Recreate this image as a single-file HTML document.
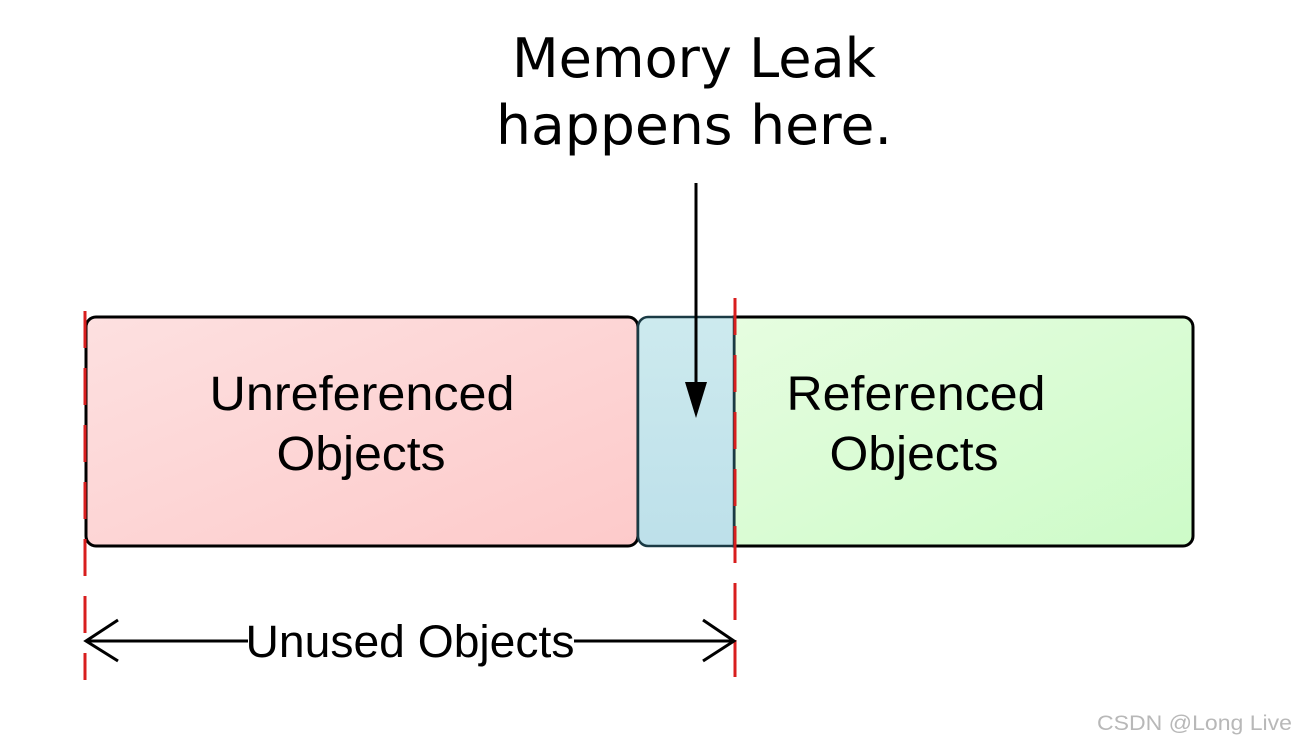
<!DOCTYPE html>
<html><head><style>html,body{margin:0;padding:0;background:#fff;width:1300px;height:745px;overflow:hidden}</style></head>
<body>
<svg width="1300" height="745" viewBox="0 0 1300 745" xmlns="http://www.w3.org/2000/svg">
<defs>
<linearGradient id="r" x1="0" y1="0" x2="1" y2="1"><stop offset="0" stop-color="#fde0e0"/><stop offset="1" stop-color="#fdcaca"/></linearGradient>
<linearGradient id="g" x1="0" y1="0" x2="1" y2="1"><stop offset="0" stop-color="#e6fde0"/><stop offset="1" stop-color="#cdfbc8"/></linearGradient>
<linearGradient id="b" x1="0" y1="0" x2="0" y2="1"><stop offset="0" stop-color="#cdeaee"/><stop offset="1" stop-color="#bde0ea"/></linearGradient>
</defs>
<text x="694" y="77" font-family="DejaVu Sans, sans-serif" font-size="54" text-anchor="middle" textLength="364" lengthAdjust="spacingAndGlyphs" fill="#000">Memory Leak</text>
<text x="694" y="144" font-family="DejaVu Sans, sans-serif" font-size="54" text-anchor="middle" textLength="396" lengthAdjust="spacingAndGlyphs" fill="#000">happens here.</text>
<rect x="86" y="317" width="552" height="229" rx="10" fill="url(#r)" stroke="#000" stroke-width="3"/>
<path d="M734 317 H1183 a10 10 0 0 1 10 10 V536 a10 10 0 0 1 -10 10 H734 Z" fill="url(#g)" stroke="#000" stroke-width="3"/>
<path d="M648 317 H734 V546 H648 a10 10 0 0 1 -10 -10 V327 a10 10 0 0 1 10 -10 Z" fill="url(#b)" stroke="#1a3a44" stroke-width="2.5"/>
<line x1="85" y1="311" x2="85" y2="680" stroke="#d81e1e" stroke-width="3" stroke-dasharray="37,20"/>
<line x1="735" y1="298" x2="735" y2="680" stroke="#d81e1e" stroke-width="3" stroke-dasharray="37,20"/>
<line x1="696" y1="183" x2="696" y2="386" stroke="#000" stroke-width="3"/>
<polygon points="685,382 707,382 696,418" fill="#000"/>
<text x="362" y="410" font-family="Liberation Sans, sans-serif" font-size="48" text-anchor="middle" textLength="305" lengthAdjust="spacingAndGlyphs" fill="#000">Unreferenced</text>
<text x="361" y="470" font-family="Liberation Sans, sans-serif" font-size="48" text-anchor="middle" textLength="169" lengthAdjust="spacingAndGlyphs" fill="#000">Objects</text>
<text x="916" y="410" font-family="Liberation Sans, sans-serif" font-size="48" text-anchor="middle" textLength="259" lengthAdjust="spacingAndGlyphs" fill="#000">Referenced</text>
<text x="914" y="470" font-family="Liberation Sans, sans-serif" font-size="48" text-anchor="middle" textLength="169" lengthAdjust="spacingAndGlyphs" fill="#000">Objects</text>
<line x1="86" y1="641" x2="248" y2="641" stroke="#000" stroke-width="3"/>
<line x1="574" y1="641" x2="734" y2="641" stroke="#000" stroke-width="3"/>
<polyline points="118,620 86,641 118,661" fill="none" stroke="#000" stroke-width="3"/>
<polyline points="703,620 734,641 703,661" fill="none" stroke="#000" stroke-width="3"/>
<text x="410" y="657" font-family="Liberation Sans, sans-serif" font-size="45" text-anchor="middle" textLength="329" lengthAdjust="spacingAndGlyphs" fill="#000">Unused Objects</text>
<text x="1292" y="730" font-family="Liberation Sans, sans-serif" font-size="21" text-anchor="end" textLength="195" lengthAdjust="spacingAndGlyphs" fill="#b8b8b8">CSDN @Long Live</text>
</svg>
</body></html>
